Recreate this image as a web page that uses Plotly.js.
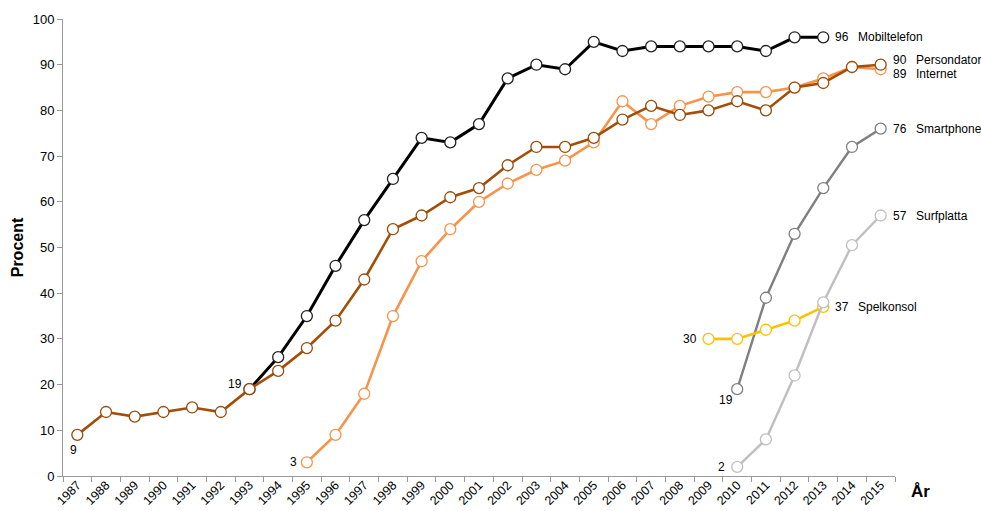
<!DOCTYPE html>
<html>
<head>
<meta charset="utf-8">
<script src="https://cdn.plot.ly/plotly-3.0.1.min.js"></script>
<style>html,body{margin:0;padding:0;background:#fff;}#chart{width:981px;height:511px;}</style>
</head>
<body>
<div id="chart"></div>
<script>
const years = ["1987","1988","1989","1990","1991","1992","1993","1994","1995","1996","1997","1998","1999","2000","2001","2002","2003","2004","2005","2006","2007","2008","2009","2010","2011","2012","2013","2014","2015"];

const mobilYears = years.slice(6, 27);
const mobilValues = [19,26,35,46,56,65,74,73,77,87,90,89,95,93,94,94,94,94,93,96,96];

const pcYears = years.slice(0);
const pcValues = [9,14,13,14,15,14,19,23,28,34,43,54,57,61,63,68,72,72,74,78,81,79,80,82,80,85,86,89.5,90];

const netYears = years.slice(8);
const netValues = [3,9,18,35,47,54,60,64,67,69,73,82,77,81,83,84,84,85,87,89.5,89];

const smartYears = years.slice(23);
const smartValues = [19,39,53,63,72,76];

const surfYears = years.slice(23);
const surfValues = [2,8,22,38,50.5,57];

const spelYears = years.slice(22, 27);
const spelValues = [30,30,32,34,37];

const yTicks = [0,10,20,30,40,50,60,70,80,90,100];

const FONT = "Liberation Sans, Arial, Helvetica, sans-serif";

const series = [
  {name: "Mobiltelefon", x: mobilYears, y: mobilValues, color: "#000000", mk: "#222222", lw: 3, endDy: 0, showStart: false},
  {name: "Internet", x: netYears, y: netValues, color: "#f7934a", mk: "#f7934a", lw: 2.6, endDy: -5, showStart: true, sx: -8, sy: 0, sanchor: "right"},
  {name: "Persondator", x: pcYears, y: pcValues, color: "#a44d06", mk: "#9a4a0a", lw: 2.6, endDy: 5, showStart: true, sx: -4, sy: -15, sanchor: "center"},
  {name: "Smartphone", x: smartYears, y: smartValues, color: "#7f7f7f", mk: "#7f7f7f", lw: 2.4, endDy: 0, showStart: true, sx: -2, sy: -11, sanchor: "right"},
  {name: "Spelkonsol", x: spelYears, y: spelValues, color: "#ffc000", mk: "#ffc000", lw: 2.6, endDy: 0, showStart: true, sx: -10, sy: 0, sanchor: "right"},
  {name: "Surfplatta", x: surfYears, y: surfValues, color: "#bfbfbf", mk: "#bfbfbf", lw: 2.4, endDy: 0, showStart: true, sx: -10, sy: 0, sanchor: "right"}
];

const traces = series.map(s => ({
  type: "scatter",
  mode: "lines+markers",
  name: s.name,
  x: s.x,
  y: s.y,
  line: {color: s.color, width: s.lw},
  marker: {symbol: "circle", size: 11, color: "#ffffff", line: {color: s.mk, width: 1.3}},
  cliponaxis: false,
  hoverinfo: "skip"
}));

const idx = y => years.indexOf(y);
const annotations = [];
series.forEach(s => {
  const n = s.x.length - 1;
  const v = s.y[n];
  const vText = String(Math.round(v));
  annotations.push({xref: "x", yref: "y", x: idx(s.x[n]), y: v, text: vText, showarrow: false,
    xanchor: "left", yanchor: "middle", xshift: 10, yshift: s.endDy, font: {family: FONT, size: 12, color: "#000"}});
  annotations.push({xref: "x", yref: "y", x: idx(s.x[n]), y: v, text: s.name, showarrow: false,
    xanchor: "left", yanchor: "middle", xshift: 33, yshift: s.endDy, font: {family: FONT, size: 12, color: "#000"}});
  if (s.showStart) {
    annotations.push({xref: "x", yref: "y", x: idx(s.x[0]), y: s.y[0], text: String(s.y[0]), showarrow: false,
      xanchor: s.sanchor, yanchor: "middle", xshift: s.sx, yshift: s.sy, font: {family: FONT, size: 12, color: "#000"}});
  }
});
// Mobiltelefon start label (shared 1993 point)
annotations.push({xref: "x", yref: "y", x: idx(mobilYears[0]), y: mobilValues[0], text: String(mobilValues[0]), showarrow: false,
  xanchor: "right", yanchor: "middle", xshift: -5, yshift: 5, font: {family: FONT, size: 12, color: "#000"}});

const layout = {
  width: 981,
  height: 511,
  margin: {l: 63, r: 86, t: 19, b: 35},
  paper_bgcolor: "#ffffff",
  plot_bgcolor: "#ffffff",
  showlegend: false,
  font: {family: FONT, size: 13, color: "#000"},
  xaxis: {
    type: "category",
    categoryorder: "array",
    categoryarray: years,
    range: [-0.5, years.length - 0.5],
    tickson: "boundaries",
    ticks: "outside",
    ticklen: 5,
    tickcolor: "#999",
    tickangle: -45,
    ticklabelstandoff: -4,
    tickfont: {family: FONT, size: 12.5, color: "#000"},
    showline: true,
    linecolor: "#999",
    linewidth: 1,
    showgrid: false,
    zeroline: false,
    automargin: false,
    fixedrange: true
  },
  yaxis: {
    range: [0, 100],
    tickvals: yTicks,
    ticks: "outside",
    ticklen: 5,
    tickcolor: "#999",
    tickfont: {family: FONT, size: 13, color: "#000"},
    showline: true,
    linecolor: "#999",
    linewidth: 1,
    showgrid: false,
    zeroline: false,
    automargin: false,
    title: {text: "<b>Procent</b>", font: {family: FONT, size: 16, color: "#000"}, standoff: 5},
    fixedrange: true
  },
  annotations: annotations.concat([
    {xref: "paper", yref: "paper", x: 1.031, y: -0.035, xanchor: "center", yanchor: "middle", text: "<b>År</b>", showarrow: false,
     font: {family: FONT, size: 17, color: "#000"}}
  ])
};

Plotly.newPlot("chart", traces, layout, {displayModeBar: false, staticPlot: true});
</script>
</body>
</html>
